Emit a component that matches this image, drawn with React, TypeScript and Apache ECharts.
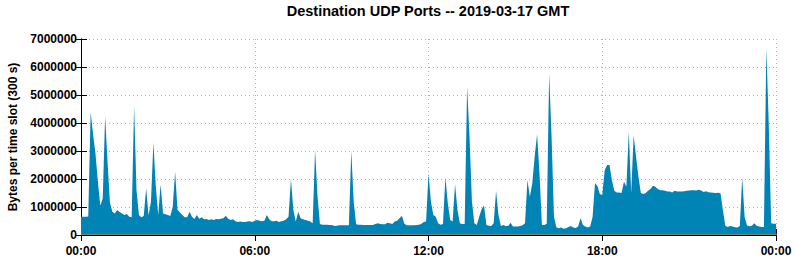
import React, { useEffect, useRef } from "react";
import * as echarts from "echarts";

const chartTitle = "Destination UDP Ports -- 2019-03-17 GMT";
const yAxisTitle = "Bytes per time slot (300 s)";
const xTickLabels = ["00:00", "06:00", "12:00", "18:00", "00:00"];
const slotsPerTick = 72;

// Main (blue) series, one value per 5-minute slot, 00:00 .. 24:00
const blueBytes = [
  650000, 650000, 650000, 660000, 4380000, 3600000, 2900000, 1900000, 1050000, 1300000,
  4250000, 2600000, 1150000, 830000, 770000, 890000, 820000, 770000, 710000, 750000,
  650000, 630000, 4620000, 1600000, 710000, 630000, 680000, 1670000, 700000, 1200000,
  3300000, 1730000, 710000, 1800000, 770000, 740000, 710000, 680000, 1000000, 2260000,
  900000, 800000, 710000, 630000, 630000, 830000, 650000, 570000, 710000, 580000,
  630000, 560000, 570000, 540000, 560000, 540000, 570000, 560000, 580000, 600000,
  690000, 580000, 540000, 560000, 490000, 460000, 480000, 460000, 460000, 480000,
  490000, 460000, 510000, 540000, 510000, 490000, 510000, 710000, 560000, 490000,
  490000, 510000, 460000, 490000, 510000, 560000, 650000, 1990000, 890000, 480000,
  830000, 600000, 560000, 540000, 510000, 480000, 420000, 3040000, 1400000, 390000,
  370000, 370000, 370000, 360000, 360000, 320000, 330000, 345000, 345000, 345000,
  345000, 345000, 3000000, 1200000, 380000, 370000, 370000, 360000, 360000, 360000,
  360000, 360000, 390000, 420000, 390000, 380000, 380000, 440000, 420000, 390000,
  480000, 510000, 600000, 690000, 400000, 345000, 345000, 345000, 345000, 360000,
  370000, 390000, 460000, 480000, 2200000, 1200000, 710000, 650000, 420000, 370000,
  390000, 2060000, 1130000, 540000, 480000, 1810000, 890000, 420000, 390000, 390000,
  5300000, 3500000, 1200000, 420000, 360000, 650000, 920000, 1050000, 360000, 330000,
  320000, 420000, 1570000, 710000, 320000, 360000, 320000, 320000, 440000, 300000,
  300000, 300000, 320000, 345000, 420000, 1960000, 1370000, 1850000, 2800000, 3600000,
  2200000, 360000, 360000, 400000, 5770000, 3500000, 650000, 270000, 240000, 270000,
  220000, 240000, 290000, 320000, 270000, 250000, 300000, 600000, 360000, 300000,
  270000, 300000, 650000, 1850000, 1750000, 1460000, 1430000, 2300000, 2500000, 2500000,
  1960000, 1580000, 1520000, 1520000, 1500000, 1900000, 1730000, 3690000, 1500000, 3550000,
  2800000, 2080000, 1500000, 1460000, 1500000, 1580000, 1640000, 1760000, 1720000, 1640000,
  1600000, 1600000, 1580000, 1550000, 1550000, 1520000, 1580000, 1550000, 1550000, 1550000,
  1560000, 1580000, 1590000, 1600000, 1600000, 1590000, 1620000, 1590000, 1540000, 1560000,
  1530000, 1520000, 1510000, 1500000, 1510000, 1490000, 880000, 330000, 290000, 320000,
  300000, 280000, 270000, 320000, 2050000, 640000, 340000, 310000, 330000, 420000,
  330000, 300000, 290000, 290000, 6680000, 3950000, 420000, 400000, 400000,
];

// Small red series (visible only around 16:40)
const redBytes = [
  0, 0, 0, 0, 0, 0, 0, 0, 0, 0, 0, 0, 0, 0, 0, 0, 0, 0, 0, 0,
  0, 0, 0, 0, 0, 0, 0, 0, 0, 0, 0, 0, 0, 0, 0, 0, 0, 0, 0, 0,
  0, 0, 0, 0, 0, 0, 0, 0, 0, 0, 0, 0, 0, 0, 0, 0, 0, 0, 0, 0,
  0, 0, 0, 0, 0, 0, 0, 0, 0, 0, 0, 0, 0, 0, 0, 0, 0, 0, 0, 0,
  0, 0, 0, 0, 0, 0, 0, 0, 0, 0, 0, 0, 0, 0, 0, 0, 0, 0, 0, 0,
  0, 0, 0, 0, 0, 0, 0, 0, 0, 0, 0, 0, 0, 0, 0, 0, 0, 0, 0, 0,
  0, 0, 0, 0, 0, 0, 0, 0, 0, 0, 0, 0, 0, 0, 0, 0, 0, 0, 0, 0,
  0, 0, 0, 0, 0, 0, 0, 0, 0, 0, 0, 0, 0, 0, 0, 0, 0, 0, 0, 0,
  0, 0, 0, 0, 0, 0, 0, 0, 0, 0, 0, 0, 0, 0, 0, 0, 0, 0, 0, 0,
  0, 0, 0, 0, 0, 0, 0, 0, 0, 0, 0, 0, 0, 0, 0, 0, 0, 0, 0, 0,
  0, 40000, 50000, 40000, 0, 0, 0, 0, 0, 0, 0, 0, 0, 0, 0, 0, 0, 0, 0, 0,
  0, 0, 0, 0, 0, 0, 0, 0, 0, 0, 0, 0, 0, 0, 0, 0, 0, 0, 0, 0,
  0, 0, 0, 0, 0, 0, 0, 0, 0, 0, 0, 0, 0, 0, 0, 0, 0, 0, 0, 0,
  0, 0, 0, 0, 0, 0, 0, 0, 0, 0, 0, 0, 0, 0, 0, 0, 0, 0, 0, 0,
  0, 0, 0, 0, 0, 0, 0, 0,
];

// Grey "other" series stacked on top
const greyBytes = [
  30000, 30000, 30000, 30000, 30000, 30000, 30000, 30000, 30000, 30000,
  30000, 30000, 30000, 30000, 30000, 30000, 30000, 30000, 30000, 30000,
  30000, 30000, 30000, 30000, 30000, 30000, 30000, 30000, 30000, 30000,
  30000, 30000, 30000, 30000, 30000, 30000, 30000, 30000, 30000, 30000,
  30000, 30000, 30000, 30000, 30000, 30000, 30000, 30000, 30000, 30000,
  30000, 30000, 30000, 30000, 30000, 30000, 30000, 30000, 30000, 30000,
  30000, 30000, 30000, 30000, 30000, 30000, 30000, 30000, 30000, 30000,
  30000, 30000, 30000, 30000, 30000, 30000, 30000, 30000, 30000, 30000,
  30000, 30000, 30000, 30000, 30000, 30000, 30000, 30000, 30000, 30000,
  30000, 30000, 30000, 30000, 30000, 30000, 30000, 30000, 30000, 30000,
  30000, 30000, 30000, 30000, 30000, 30000, 30000, 30000, 30000, 30000,
  30000, 30000, 30000, 30000, 30000, 30000, 30000, 30000, 30000, 30000,
  30000, 30000, 30000, 30000, 30000, 30000, 30000, 30000, 30000, 30000,
  30000, 30000, 30000, 30000, 30000, 30000, 30000, 30000, 30000, 30000,
  30000, 30000, 30000, 30000, 30000, 30000, 30000, 30000, 30000, 30000,
  30000, 30000, 30000, 30000, 30000, 30000, 30000, 30000, 30000, 30000,
  30000, 30000, 30000, 30000, 30000, 30000, 30000, 30000, 30000, 30000,
  30000, 30000, 30000, 30000, 30000, 30000, 30000, 30000, 30000, 30000,
  30000, 30000, 30000, 30000, 30000, 30000, 30000, 30000, 30000, 30000,
  30000, 30000, 30000, 30000, 30000, 30000, 30000, 30000, 30000, 30000,
  30000, 30000, 30000, 30000, 30000, 30000, 30000, 30000, 30000, 30000,
  30000, 30000, 30000, 30000, 30000, 30000, 30000, 30000, 30000, 30000,
  30000, 30000, 30000, 30000, 30000, 30000, 30000, 30000, 30000, 30000,
  30000, 30000, 30000, 30000, 30000, 30000, 30000, 30000, 30000, 30000,
  30000, 30000, 30000, 40000, 40000, 40000, 40000, 40000, 40000, 40000,
  40000, 40000, 40000, 40000, 50000, 60000, 40000, 60000, 60000, 50000,
  50000, 60000, 60000, 70000, 60000, 60000, 60000, 70000, 90000, 80000,
  100000, 80000, 90000, 80000, 80000, 60000, 60000, 90000, 80000, 80000,
  80000, 110000, 90000, 70000, 60000, 60000, 50000, 50000, 40000,
];

export default function App() {
  const ref = useRef<HTMLDivElement>(null);

  useEffect(() => {
    if (!ref.current) return;
    const chart = echarts.init(ref.current, null, { renderer: "svg" });
    const font = "'Liberation Sans', Arial, Helvetica, sans-serif";
    const toPairs = (arr: number[]) => arr.map((v, i) => [i, v]);
    const lastSlot = slotsPerTick * (xTickLabels.length - 1);
    const gridLine = { show: true, lineStyle: { color: "#b0b0b0", width: 1, type: [1, 3] as any } };
    const tickStyle = { inside: true, length: 6, lineStyle: { color: "#000" } };

    const option: any = {
      animation: false,
      backgroundColor: "#ffffff",
      grid: { left: 81, right: 19, top: 39, bottom: 25, containLabel: false },
      xAxis: [
        {
          type: "value",
          min: 0,
          max: lastSlot,
          interval: slotsPerTick,
          position: "bottom",
          axisLine: { show: true, lineStyle: { color: "#000" } },
          axisTick: tickStyle,
          splitLine: gridLine,
          axisLabel: {
            color: "#000",
            fontFamily: font,
            fontWeight: "bold",
            fontSize: 12,
            margin: 10,
            formatter: (v: number) => xTickLabels[Math.round(v / slotsPerTick)] ?? "",
          },
        },
        {
          type: "value",
          min: 0,
          max: lastSlot,
          interval: slotsPerTick,
          position: "top",
          axisLine: { show: true, lineStyle: { color: "#000" } },
          axisTick: tickStyle,
          splitLine: { show: false },
          axisLabel: { show: false },
        },
      ],
      yAxis: [
        {
          type: "value",
          min: 0,
          max: 7000000,
          interval: 1000000,
          position: "left",
          axisLine: { show: true, lineStyle: { color: "#000" } },
          axisTick: tickStyle,
          splitLine: gridLine,
          axisLabel: {
            color: "#000",
            fontFamily: font,
            fontWeight: "bold",
            fontSize: 12,
            margin: 4,
            formatter: (v: number) => String(v),
          },
        },
        {
          type: "value",
          min: 0,
          max: 7000000,
          interval: 1000000,
          position: "right",
          axisLine: { show: true, lineStyle: { color: "#000" } },
          axisTick: tickStyle,
          splitLine: { show: false },
          axisLabel: { show: false },
        },
      ],
      series: [
        {
          name: "blue",
          type: "line",
          stack: "total",
          data: toPairs(blueBytes),
          symbol: "none",
          lineStyle: { width: 0, color: "#0083b5" },
          areaStyle: { color: "#0083b5", opacity: 1 },
          itemStyle: { color: "#0083b5" },
          z: 3,
        },
        {
          name: "red",
          type: "line",
          stack: "total",
          data: toPairs(redBytes),
          symbol: "none",
          lineStyle: { width: 0, color: "#c0392b" },
          areaStyle: { color: "#c0392b", opacity: 1 },
          itemStyle: { color: "#c0392b" },
          z: 3,
        },
        {
          name: "grey",
          type: "line",
          stack: "total",
          data: toPairs(greyBytes),
          symbol: "none",
          lineStyle: { width: 1, color: "#7a7650" },
          areaStyle: { color: "#9a9a9a", opacity: 1 },
          itemStyle: { color: "#9a9a9a" },
          z: 3,
        },
      ],
      graphic: [
        {
          type: "text",
          left: 0,
          top: 0,
          x: 428,
          y: 11,
          style: {
            text: chartTitle,
            fill: "#000",
            font: `bold 14.5px ${font}`,
            align: "center",
            verticalAlign: "middle",
          },
          z: 10,
        },
        {
          type: "text",
          x: 13,
          y: 137,
          rotation: Math.PI / 2,
          style: {
            text: yAxisTitle,
            fill: "#000",
            font: `bold 12px ${font}`,
            align: "center",
            verticalAlign: "middle",
          },
          z: 10,
        },
      ],
    };
    // remove positional conflicts for graphic title
    delete option.graphic[0].left;
    delete option.graphic[0].top;
    chart.setOption(option);
    return () => chart.dispose();
  }, []);

  return (
    <div
      ref={ref}
      style={{ position: "fixed", left: 0, top: 0, width: 795, height: 260, background: "#fff" }}
    />
  );
}
